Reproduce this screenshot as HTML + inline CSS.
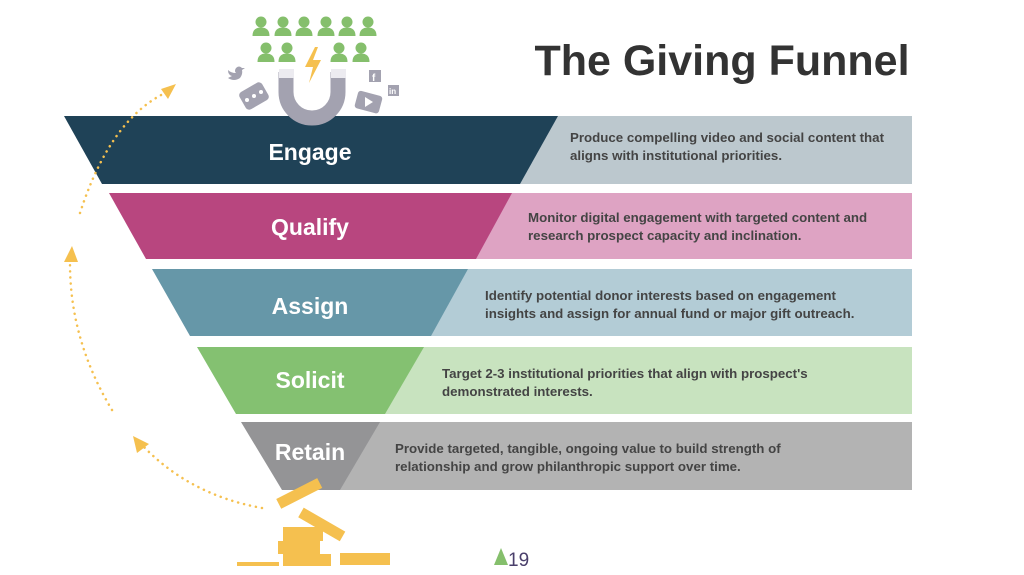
<!DOCTYPE html>
<html><head><meta charset="utf-8"><style>
html,body{margin:0;padding:0;background:#fff;}
svg{display:block;}
.lbl{font-family:"Liberation Sans",sans-serif;font-weight:bold;font-size:23px;fill:#fff;text-anchor:middle;}
.d{font-family:"Liberation Sans",sans-serif;font-weight:bold;font-size:13.3px;fill:#444;}
.dot{fill:none;stroke:#f5c04f;stroke-width:2.5;stroke-dasharray:0.1 6;stroke-linecap:round;}
</style></head><body>
<svg width="1024" height="575" viewBox="0 0 1024 575" xmlns="http://www.w3.org/2000/svg">
<defs>
<g id="p"><circle cx="0" cy="-4" r="5.5"/><path d="M-8.5,10 Q-8.5,1.5 0,1.5 Q8.5,1.5 8.5,10 Z"/></g>
</defs>
<text x="722" y="75" font-family="Liberation Sans,sans-serif" font-weight="bold" font-size="43" fill="#333" text-anchor="middle">The Giving Funnel</text>

<!-- Engage -->
<rect x="520" y="116" width="392" height="68" fill="#bcc8ce"/>
<polygon points="64,116 558,116 520,184 102,184" fill="#1f4257"/>
<text class="lbl" x="310" y="160">Engage</text>
<text class="d" x="570" y="142">Produce compelling video and social content that</text>
<text class="d" x="570" y="160">aligns with institutional priorities.</text>
<!-- Qualify -->
<rect x="476" y="193" width="436" height="66" fill="#dea3c3"/>
<polygon points="109,193 512,193 476,259 146,259" fill="#b8467f"/>
<text class="lbl" x="310" y="235">Qualify</text>
<text class="d" x="528" y="222">Monitor digital engagement with targeted content and</text>
<text class="d" x="528" y="240">research prospect capacity and inclination.</text>
<!-- Assign -->
<rect x="431" y="269" width="481" height="67" fill="#b3ccd6"/>
<polygon points="152,269 468,269 431,336 190,336" fill="#6697a8"/>
<text class="lbl" x="310" y="314">Assign</text>
<text class="d" x="485" y="300">Identify potential donor interests based on engagement</text>
<text class="d" x="485" y="318">insights and assign for annual fund or major gift outreach.</text>
<!-- Solicit -->
<rect x="385" y="347" width="527" height="67" fill="#c8e3bf"/>
<polygon points="197,347 424,347 385,414 236,414" fill="#84c171"/>
<text class="lbl" x="310" y="388">Solicit</text>
<text class="d" x="442" y="378">Target 2-3 institutional priorities that align with prospect's</text>
<text class="d" x="442" y="396">demonstrated interests.</text>
<!-- Retain -->
<rect x="340" y="422" width="572" height="68" fill="#b3b3b3"/>
<polygon points="241,422 380,422 340,490 282,490" fill="#949496"/>
<text class="lbl" x="310" y="460">Retain</text>
<text class="d" x="395" y="453">Provide targeted, tangible, ongoing value to build strength of</text>
<text class="d" x="395" y="471">relationship and grow philanthropic support over time.</text>

<!-- dotted arcs -->
<path class="dot" d="M80,213 Q110,120 165,93"/>
<polygon points="176,84 161,89 168,99" fill="#f5c04f"/>
<path class="dot" d="M112,410 Q70,340 70,264"/>
<polygon points="72,246 64,262 78,262" fill="#f5c04f"/>
<path class="dot" d="M262,508 Q190,495 143,446"/>
<polygon points="133,436 137,453 149,444" fill="#f5c04f"/>

<!-- people -->
<g fill="#85bf6c">
<use href="#p" x="261" y="26"/><use href="#p" x="283" y="26"/><use href="#p" x="304" y="26"/><use href="#p" x="326" y="26"/><use href="#p" x="347" y="26"/><use href="#p" x="368" y="26"/>
<use href="#p" x="266" y="52"/><use href="#p" x="287" y="52"/><use href="#p" x="339" y="52"/><use href="#p" x="361" y="52"/>
</g>
<polygon points="315,47 305,67 313,67 309,83 321,60 313,60 318,47" fill="#f5c04f"/>
<!-- magnet -->
<path d="M286,72 L286,92 A26,26 0 0 0 338,92 L338,72" fill="none" stroke="#a3a2b0" stroke-width="15"/>
<rect x="279" y="69" width="15" height="9" fill="#ecebf0"/>
<rect x="331" y="69" width="15" height="9" fill="#ecebf0"/>
<!-- social icons -->
<path d="M228,78 q6,4 12,0 q3,-4 2,-8 l3,-2 -3,0 q-3,-3 -6,0 q-2,3 0,5 q-5,0 -8,-3 q0,5 4,6 q-2,1 -4,2z" fill="#a3a2b0"/>
<rect x="241" y="86" width="26" height="20" rx="4" transform="rotate(-30 254 96)" fill="#a3a2b0"/>
<circle cx="247" cy="100" r="2" fill="#fff"/><circle cx="254" cy="96" r="2" fill="#fff"/><circle cx="261" cy="92" r="2" fill="#fff"/>
<rect x="369" y="70" width="12" height="12" fill="#a3a2b0"/><text x="372" y="81" font-family="Liberation Sans,sans-serif" font-weight="bold" font-size="10" fill="#fff">f</text>
<rect x="388" y="85" width="11" height="11" fill="#a3a2b0"/><text x="389" y="94" font-family="Liberation Sans,sans-serif" font-weight="bold" font-size="8" fill="#fff">in</text>
<rect x="356" y="93" width="25" height="18" rx="3" transform="rotate(15 368 102)" fill="#a3a2b0"/>
<polygon points="365,97 365,107 373,102" fill="#fff"/>
<!-- coins -->
<g fill="#f5c04f">
<rect x="276" y="488" width="46" height="11" transform="rotate(-27 299 493)"/>
<rect x="298" y="519" width="48" height="11" transform="rotate(30 322 524)"/>
<rect x="283" y="527" width="40" height="14"/>
<rect x="278" y="541" width="42" height="13"/>
<rect x="283" y="554" width="48" height="12"/>
<rect x="340" y="553" width="50" height="12"/>
<rect x="237" y="562" width="42" height="4"/>
</g>
<!-- logo -->
<polygon points="501,548 494,565 508,565" fill="#85bf6c"/>
<text x="508" y="566" font-family="Liberation Sans,sans-serif" font-size="19" fill="#4a3f6b">19</text>
</svg>
</body></html>
